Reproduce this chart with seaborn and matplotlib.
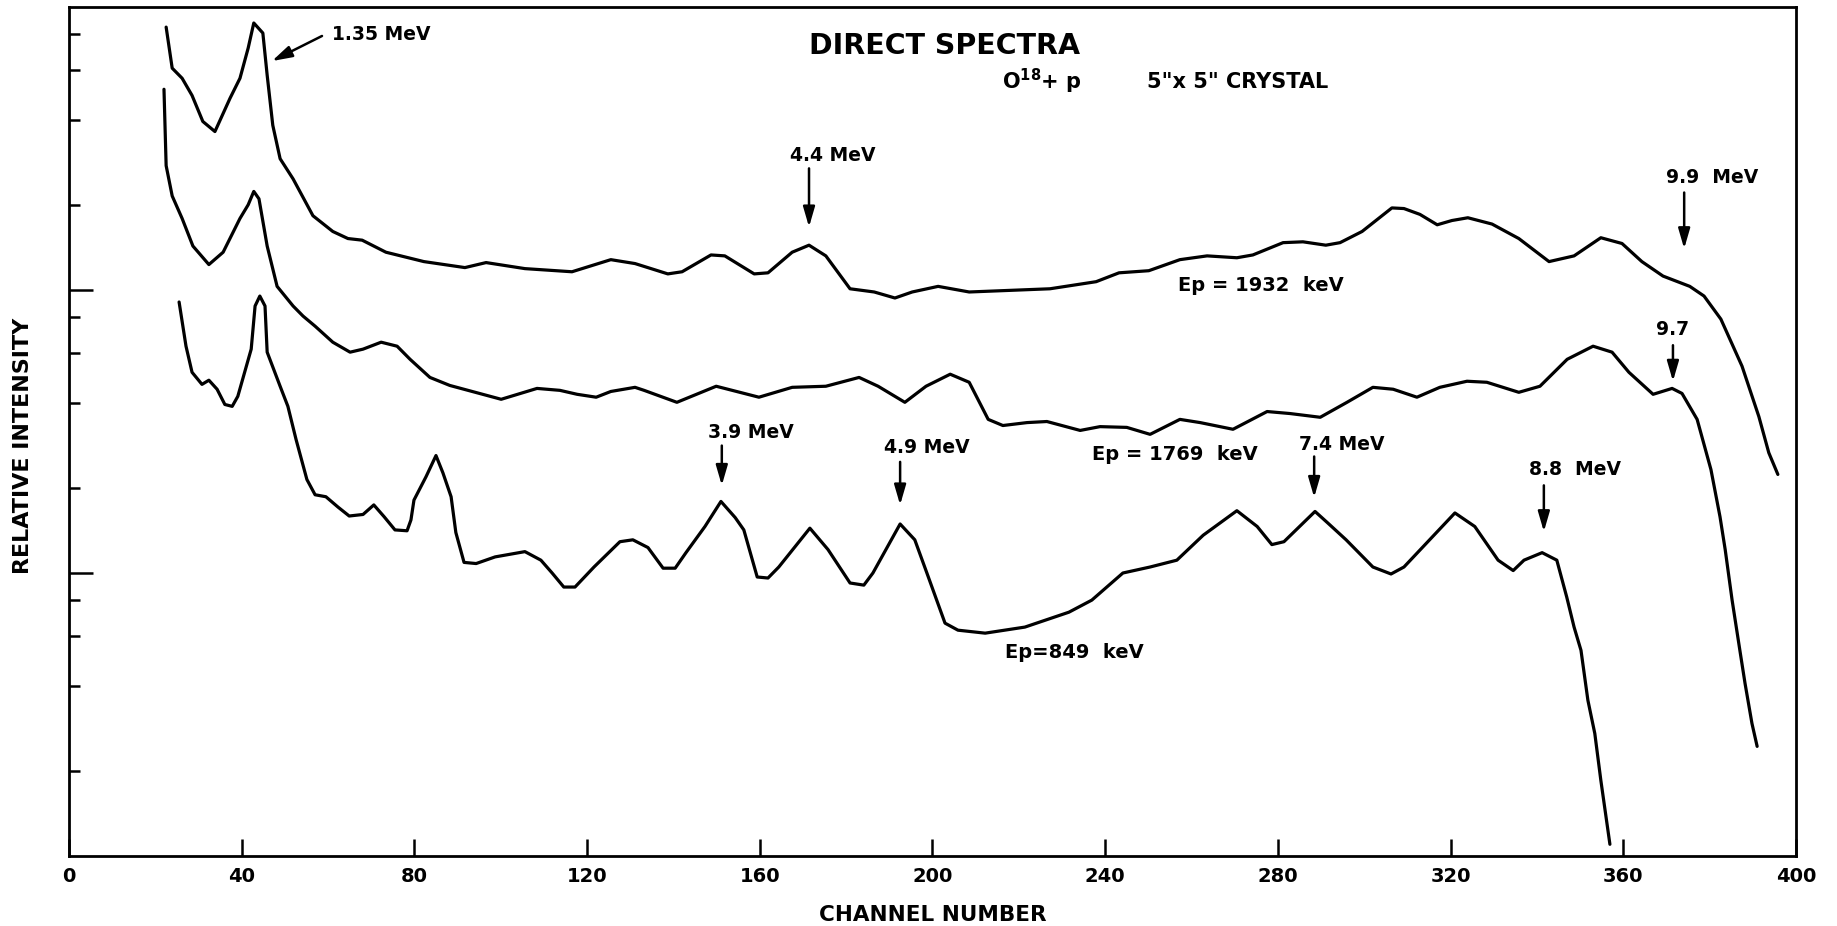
import numpy as np
import pandas as pd
import matplotlib
matplotlib.use("Agg")
import matplotlib.pyplot as plt
import seaborn as sns
from matplotlib.ticker import FixedLocator, NullFormatter

# ---- data (channel number, relative intensity) ----
ch_1932 = [22.5, 23.9, 26.2, 28.5, 31.0, 33.8, 37.3, 39.6, 41.5, 42.8,
           44.9, 45.9, 47.2, 48.9, 51.9, 56.5, 61.1, 64.6, 67.9, 73.4,
           82.2, 91.7, 96.6, 105.6, 116.5, 125.5, 131.1, 138.7, 142.0, 148.7,
           151.9, 158.7, 161.9, 167.5, 171.4, 175.3, 180.9, 186.5, 191.3, 195.3,
           201.3, 208.5, 227.2, 237.9, 243.2, 250.1, 257.3, 263.6, 270.5, 274.2,
           281.2, 285.8, 291.1, 294.4, 299.5, 306.4, 309.2, 312.9, 316.9, 320.3,
           324.0, 329.6, 335.8, 342.8, 348.6, 354.8, 359.7, 364.3, 369.2, 375.4,
           378.7, 382.6, 387.5, 391.4, 393.7, 395.8]
int_1932 = [84.9, 60.8, 56.0, 48.7, 39.4, 36.3, 47.6, 56.0, 71.6, 87.8,
            80.9, 57.4, 38.2, 29.1, 24.7, 18.3, 16.1, 15.2, 15.0, 13.6,
            12.6, 12.0, 12.5, 11.9, 11.6, 12.8, 12.4, 11.4, 11.6, 13.3,
            13.2, 11.4, 11.5, 13.6, 14.4, 13.2, 10.1, 9.84, 9.37, 9.84,
            10.3, 9.84, 10.1, 10.7, 11.5, 11.7, 12.8, 13.2, 13.0, 13.3,
            14.7, 14.8, 14.4, 14.7, 16.1, 19.5, 19.4, 18.5, 17.0, 17.6,
            18.0, 17.1, 15.2, 12.6, 13.2, 15.3, 14.6, 12.6, 11.2, 10.3,
            9.52, 7.89, 5.38, 3.57, 2.66, 2.23]

ch_1769 = [22.0, 22.5, 23.9, 26.2, 28.7, 32.4, 35.7, 39.6, 41.5, 42.8,
           44.0, 45.9, 48.2, 51.9, 54.2, 57.0, 61.1, 65.1, 68.1, 72.3,
           76.0, 79.0, 83.6, 88.2, 100.1, 108.4, 113.7, 117.7, 122.1, 125.5,
           131.1, 133.2, 140.8, 149.9, 159.8, 167.5, 175.3, 183.0, 187.4, 193.6,
           198.5, 204.1, 208.5, 212.9, 216.3, 221.9, 226.5, 234.2, 238.8, 245.0,
           250.4, 257.3, 262.0, 269.6, 277.5, 282.8, 289.8, 296.0, 302.0, 306.7,
           312.2, 317.5, 323.8, 328.4, 335.8, 340.7, 347.0, 353.0, 357.4, 361.3,
           366.9, 371.3, 373.6, 377.1, 380.3, 382.4, 383.6, 385.2, 387.0, 388.2,
           389.8, 391.0]
int_1769 = [51.2, 27.5, 21.5, 17.9, 14.3, 12.3, 13.6, 17.9, 20.0, 22.3,
            21.0, 14.3, 10.3, 8.78, 8.09, 7.45, 6.54, 6.03, 6.18, 6.54,
            6.33, 5.69, 4.91, 4.60, 4.11, 4.49, 4.42, 4.28, 4.18, 4.38,
            4.53, 4.42, 4.01, 4.57, 4.18, 4.53, 4.57, 4.91, 4.57, 4.01,
            4.57, 5.04, 4.72, 3.49, 3.32, 3.40, 3.43, 3.19, 3.29, 3.27,
            3.09, 3.49, 3.40, 3.22, 3.72, 3.66, 3.55, 4.01, 4.53, 4.46,
            4.18, 4.53, 4.76, 4.72, 4.35, 4.57, 5.69, 6.33, 6.03, 5.12,
            4.28, 4.49, 4.31, 3.49, 2.32, 1.58, 1.21, 0.802, 0.533, 0.407,
            0.294, 0.244]

ch_849 = [25.5, 27.1, 28.5, 30.8, 32.4, 34.3, 36.1, 37.8, 39.1, 42.2,
          43.1, 44.2, 45.4, 45.9, 48.9, 50.7, 52.6, 55.1, 57.0, 59.5,
          62.3, 64.9, 68.1, 70.6, 73.0, 75.5, 78.3, 79.2, 79.9, 82.7,
          85.0, 86.6, 88.5, 89.6, 91.5, 94.3, 98.7, 105.6, 109.3, 111.9,
          114.6, 117.2, 121.6, 127.6, 130.6, 134.1, 137.6, 140.4, 142.9, 147.3,
          151.0, 154.3, 156.3, 159.4, 161.9, 164.4, 171.6, 175.8, 180.9, 184.1,
          186.2, 192.5, 195.9, 198.7, 202.9, 205.9, 212.2, 221.4, 231.6, 236.9,
          244.1, 250.4, 256.6, 262.7, 270.5, 275.2, 278.6, 281.4, 288.6, 291.6,
          295.8, 302.0, 306.2, 309.2, 321.0, 325.6, 331.0, 334.5, 337.0, 341.2,
          344.6, 346.9, 348.6, 350.2, 351.8, 353.4, 354.8, 356.9]
int_849 = [9.07, 6.33, 5.12, 4.64, 4.80, 4.46, 3.94, 3.88, 4.21, 6.18,
           8.78, 9.52, 8.78, 6.03, 4.57, 3.88, 2.96, 2.14, 1.89, 1.86,
           1.71, 1.59, 1.61, 1.74, 1.58, 1.42, 1.41, 1.54, 1.81, 2.19,
           2.60, 2.26, 1.86, 1.39, 1.09, 1.08, 1.14, 1.19, 1.11, 1.00,
           0.892, 0.892, 1.05, 1.29, 1.31, 1.23, 1.04, 1.04, 1.18, 1.46,
           1.79, 1.57, 1.42, 0.968, 0.960, 1.05, 1.44, 1.21, 0.922, 0.906,
           1.00, 1.49, 1.31, 1.00, 0.665, 0.628, 0.613, 0.644, 0.727, 0.802,
           1.00, 1.05, 1.11, 1.36, 1.66, 1.46, 1.26, 1.29, 1.65, 1.50,
           1.31, 1.05, 0.992, 1.05, 1.63, 1.46, 1.11, 1.02, 1.11, 1.18,
           1.11, 0.822, 0.644, 0.533, 0.355, 0.271, 0.185, 0.110]

x_ticks = [0, 40, 80, 120, 160, 200, 240, 280, 320, 360, 400]
y_major = [1, 10]
y_minor = [0.2, 0.4, 0.6, 0.8, 2, 4, 6, 8, 20, 40, 60, 80]

runs = {"Ep=1932 keV": (ch_1932, int_1932),
        "Ep=1769 keV": (ch_1769, int_1769),
        "Ep=849 keV": (ch_849, int_849)}
df = pd.concat([pd.DataFrame({"channel": c, "intensity": v, "run": k})
                for k, (c, v) in runs.items()], ignore_index=True)

# ---- style ----
sns.set_theme(style="white")
plt.rcParams["font.family"] = ["DejaVu Sans"]
plt.rcParams["mathtext.default"] = "regular"
plt.rcParams["text.color"] = "black"
plt.rcParams["axes.labelcolor"] = "black"
plt.rcParams["xtick.color"] = "black"
plt.rcParams["ytick.color"] = "black"

fig = plt.figure(figsize=(18.37, 9.26), dpi=100)
ax = fig.add_axes([0.03756, 0.07559, 0.94012, 0.91685])

sns.lineplot(data=df, x="channel", y="intensity", units="run", estimator=None,
             sort=False, color="black", lw=2.3, ax=ax, legend=False,
             solid_joinstyle="round", solid_capstyle="round")

ax.set_yscale("log")
ax.set_xlim(0, 400)
ax.set_ylim(0.1, 100)

for sp in ax.spines.values():
    sp.set_visible(True)
    sp.set_color("black")
    sp.set_linewidth(2.0)

ax.xaxis.set_major_locator(FixedLocator(x_ticks))
ax.set_xticklabels([str(t) for t in x_ticks], fontsize=14, fontweight="bold",
                   color="black")
ax.xaxis.set_minor_locator(FixedLocator([]))
ax.tick_params(axis="x", which="major", direction="in", length=12, width=1.8,
               bottom=True, top=False, pad=8, colors="black")

ax.yaxis.set_major_locator(FixedLocator(y_major))
ax.yaxis.set_minor_locator(FixedLocator(y_minor))
ax.yaxis.set_major_formatter(NullFormatter())
ax.yaxis.set_minor_formatter(NullFormatter())
ax.tick_params(axis="y", which="major", direction="in", length=17, width=1.8,
               left=True, right=False, colors="black")
ax.tick_params(axis="y", which="minor", direction="in", length=8, width=1.8,
               left=True, right=False, colors="black")

ax.set_xlabel("CHANNEL NUMBER", fontsize=15.5, fontweight="bold", color="black")
ax.xaxis.set_label_coords(0.5, -0.058)
ax.set_ylabel("RELATIVE INTENSITY", fontsize=16, fontweight="bold", color="black")
ax.yaxis.set_label_coords(-0.021, 0.483)

# ---- titles ----
ax.text(0.507, 0.954, "DIRECT SPECTRA", transform=ax.transAxes,
        ha="center", va="center", fontsize=20.5, fontweight="bold", color="black")
ax.text(0.540, 0.912, r"O$^{\mathbf{18}}$+ p", transform=ax.transAxes,
        ha="left", va="center", fontsize=15, fontweight="bold", color="black")
ax.text(0.624, 0.912, '5"x 5" CRYSTAL', transform=ax.transAxes,
        ha="left", va="center", fontsize=15, fontweight="bold", color="black")

# ---- annotations (text anchor, arrow tail, arrow tip) ----
arrow_kw = dict(arrowstyle="-|>,head_length=0.55,head_width=0.16",
                color="black", lw=1.8, shrinkA=0, shrinkB=0, mutation_scale=22)

labels = [
    ("1.35 MeV", (60.9, 80.0), (58.6, 79.0), (47.0, 64.4)),
    ("4.4 MeV", (167.0, 29.9), (171.4, 26.9), (171.4, 16.7)),
    ("9.9  MeV", (369.9, 24.9), (374.1, 22.1), (374.1, 14.0)),
    ("9.7", (371.5, 7.27), (371.5, 6.38), (371.5, 4.76)),
    ("3.9 MeV", (148.0, 3.14), (151.2, 2.82), (151.2, 2.04)),
    ("4.9 MeV", (188.8, 2.78), (192.5, 2.47), (192.5, 1.74)),
    ("7.4 MeV", (284.9, 2.84), (288.4, 2.58), (288.4, 1.85)),
    ("8.8  MeV", (338.2, 2.32), (341.6, 2.04), (341.6, 1.40)),
]
for text, pos, tail, tip in labels:
    ha = "center" if text == "9.7" else "left"
    ax.text(pos[0], pos[1], text, ha=ha, va="center", fontsize=13.5,
            fontweight="bold", color="black")
    ax.annotate("", xy=tip, xytext=tail, arrowprops=arrow_kw)

ax.text(256.9, 10.4, "Ep = 1932  keV", ha="left", va="center",
        fontsize=14, fontweight="bold", color="black")
ax.text(236.9, 2.62, "Ep = 1769  keV", ha="left", va="center",
        fontsize=14, fontweight="bold", color="black")
ax.text(216.8, 0.525, "Ep=849  keV", ha="left", va="center",
        fontsize=14, fontweight="bold", color="black")

fig.savefig("out.png", dpi=100, facecolor="white")
